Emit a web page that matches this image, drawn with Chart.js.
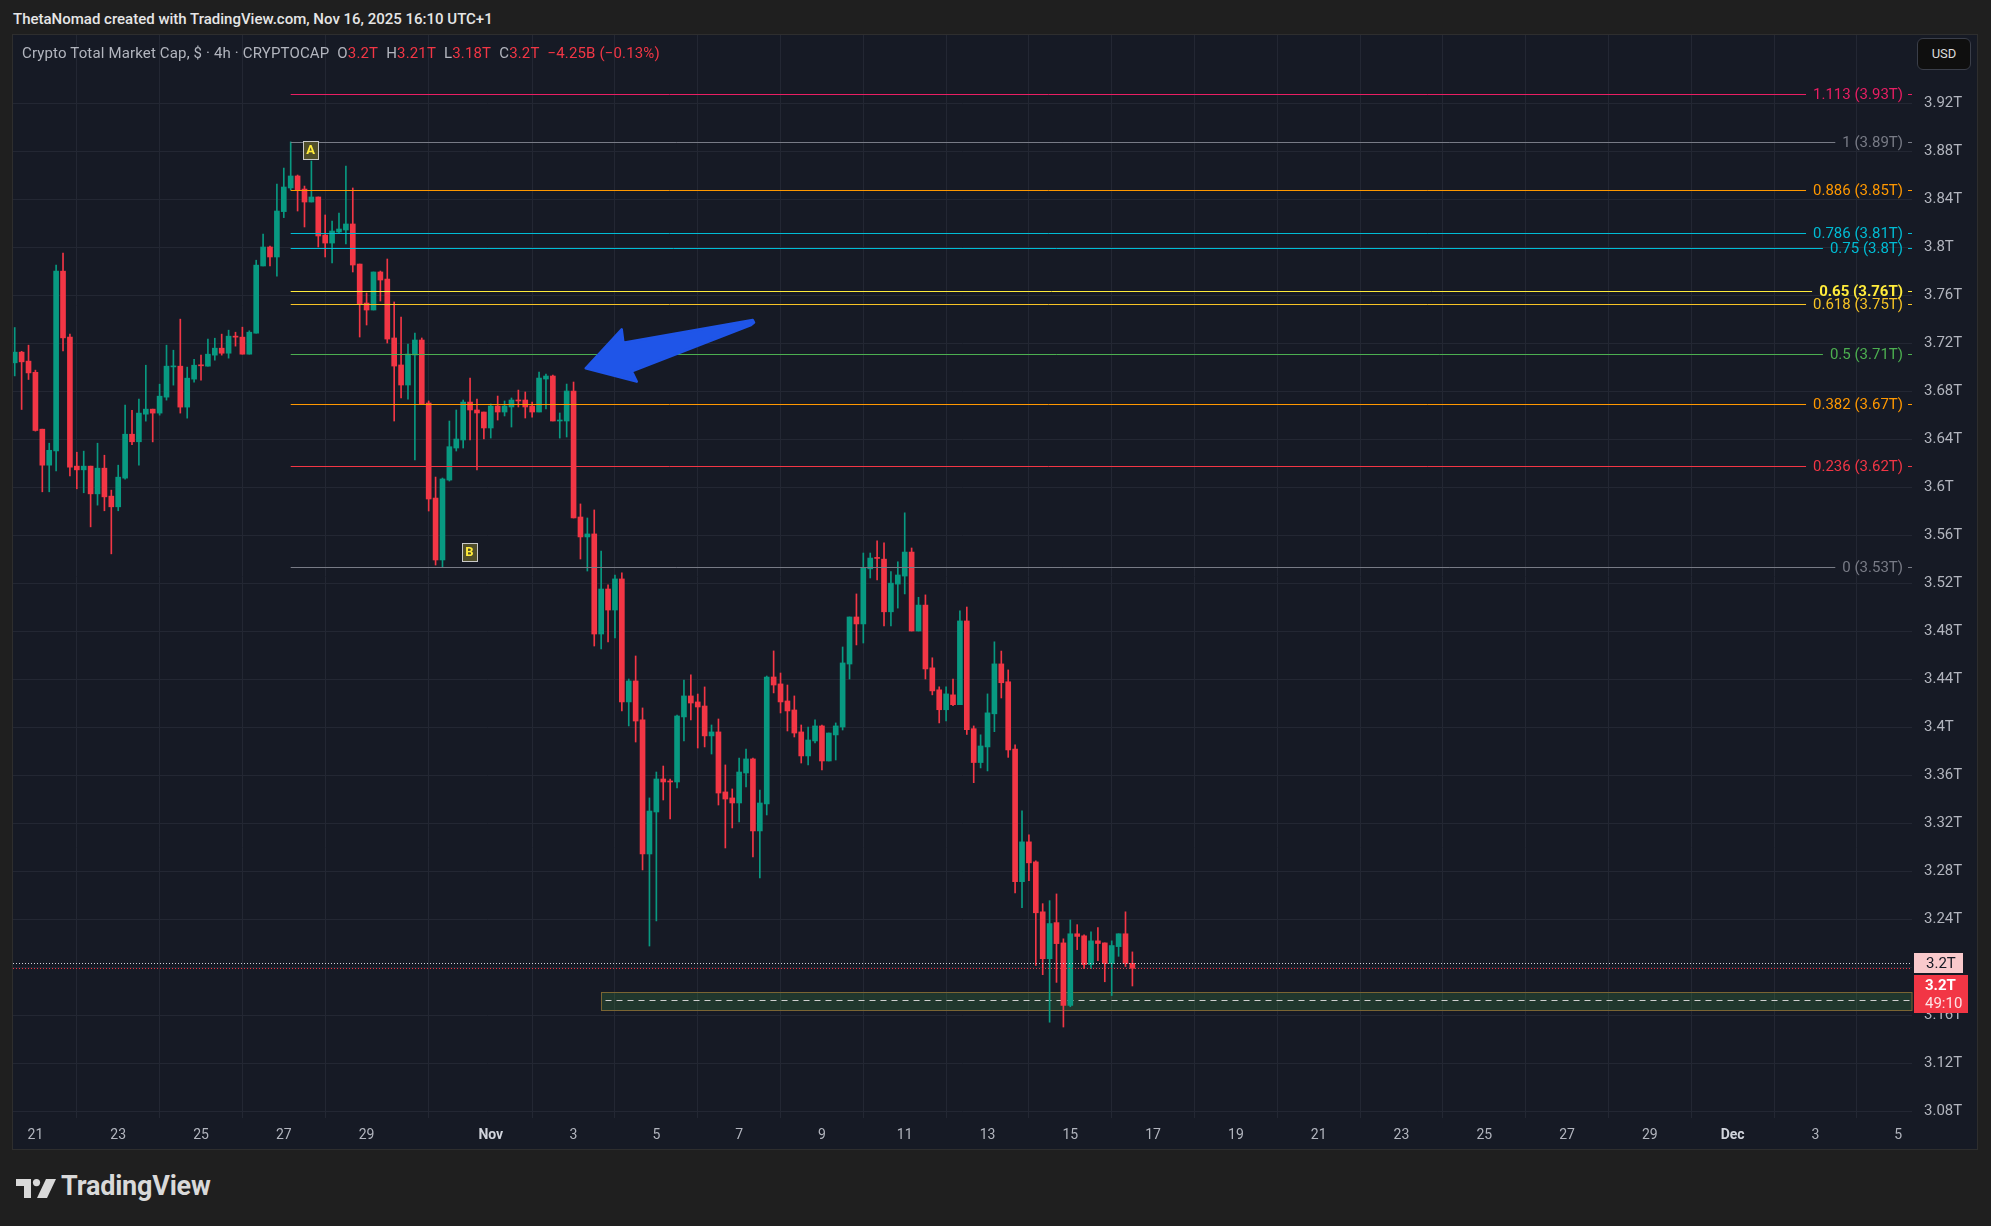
<!DOCTYPE html>
<html>
<head>
<meta charset="utf-8">
<title>Crypto Total Market Cap</title>
<script src="https://cdn.jsdelivr.net/npm/chart.js@4.4.1/dist/chart.umd.min.js"></script>
<style>
  html, body { margin:0; padding:0; }
  body { width:1991px; height:1226px; background:#1f1f1f; position:relative; overflow:hidden; font-family: Roboto, 'Noto Sans', sans-serif; }
  #title { position:absolute; left:13px; top:12px; font-size:15px; line-height:15px; font-weight:500; color:#e6e6e6; white-space:nowrap; }
  #panel { position:absolute; left:12px; top:34px; width:1964px; height:1114px; border:1px solid #2e2e2e; background:#161a25; }
  #chart { position:absolute; left:13px; top:35px; }
  #legend { position:absolute; left:22px; top:46px; font-size:15px; line-height:15px; color:#b2b5be; white-space:nowrap; letter-spacing:0.15px; }
  #legend .r { color:#f23645; }
  #legend .gap { margin-left:8px; }
  #usd { position:absolute; left:1917px; top:38px; width:52px; height:30px; border:1px solid #3a3e49; border-radius:6px; background:#0f0f0f; color:#dcdcdc; font-size:13px; line-height:30px; text-align:center; }
  #logoIcon { position:absolute; left:16px; top:1179px; }
  #logoText { position:absolute; left:61px; top:1173px; font-size:27px; line-height:27px; font-weight:700; color:#d9d9d9; letter-spacing:-0.2px; }
</style>
</head>
<body>
<div id="title">ThetaNomad created with TradingView.com, Nov 16, 2025 16:10 UTC+1</div>
<div id="panel"></div>
<canvas id="chart" width="1964" height="1114"></canvas>
<div id="legend"><span>Crypto Total Market Cap, $ · 4h · CRYPTOCAP</span><span class="gap">O</span><span class="r">3.2T</span><span class="gap">H</span><span class="r">3.21T</span><span class="gap">L</span><span class="r">3.18T</span><span class="gap">C</span><span class="r">3.2T</span><span class="gap r">−4.25B (−0.13%)</span></div>
<div id="usd">USD</div>
<svg id="logoIcon" width="42" height="19" viewBox="0 0 42 19"><path d="M0 0H15V19H8V7H0Z" fill="#d9d9d9"/><circle cx="20.5" cy="3.6" r="3.6" fill="#d9d9d9"/><path d="M30 0H40L31 19H21Z" fill="#d9d9d9"/></svg>
<div id="logoText">TradingView</div>
<script>
// ---------- DATA ----------
const firstCandleUTC = Date.UTC(2025, 9, 20, 12); // Oct 20 13:00 UTC+1
const candleHours = 4;

const open = [
3.7039,3.7128,3.7053,3.6960,3.6486,3.6186,3.6305,3.7803,3.7253,3.6178,
3.6147,3.6178,3.5947,3.6161,3.5928,3.5839,3.6078,3.6444,3.6381,3.6611,
3.6653,3.6620,3.6753,3.7005,3.7011,3.6670,3.6903,3.7019,3.7011,3.7103,
3.7161,3.7119,3.7261,3.7253,3.7111,3.7286,3.7846,3.8004,3.7921,3.8299,
3.8496,3.8596,3.8487,3.8379,3.8421,3.8104,3.8037,3.8129,3.8146,3.8196,
3.7862,3.7537,3.7479,3.7796,3.7737,3.7246,3.7021,3.6854,3.7104,3.7229,
3.6704,3.5912,3.5396,3.6062,3.6329,3.6396,3.6712,3.6646,3.6629,3.6496,
3.6679,3.6629,3.6671,3.6729,3.6729,3.6679,3.6629,3.6904,3.6929,3.6554,
3.6554,3.6804,3.5754,3.5588,3.5613,3.4779,3.5154,3.4979,3.5238,3.4213,
3.4388,3.4063,3.2946,3.3296,3.3571,3.3554,3.3546,3.4088,3.4263,3.4213,
3.4179,3.3930,3.3963,3.3463,3.3413,3.3371,3.3621,3.3738,3.3138,3.3363,
3.4421,3.4363,3.4221,3.4146,3.3963,3.3763,3.3888,3.4013,3.3721,3.3938,
3.4004,3.4529,3.4921,3.4863,3.5322,3.5412,3.5403,3.4964,3.5195,3.5262,
3.5462,3.4804,3.5020,3.4497,3.4314,3.4148,3.4272,3.4190,3.4888,3.3990,
3.3708,3.3838,3.4114,3.4530,3.4381,3.3821,3.2715,3.3047,3.2880,3.2464,
3.2073,3.2374,3.2205,3.1684,3.2281,3.2264,3.2025,3.2222,3.2205,3.2033,
3.2174,3.2281,3.2035];

const high = [
3.7333,3.7135,3.7186,3.6978,3.6486,3.6369,3.7853,3.7953,3.7278,3.6294,
3.6303,3.6178,3.6369,3.6269,3.5978,3.6186,3.6686,3.6644,3.6736,3.7019,
3.6653,3.6861,3.7186,3.7144,3.7403,3.7003,3.7069,3.7103,3.7236,3.7244,
3.7278,3.7311,3.7294,3.7336,3.7306,3.7894,3.8112,3.8012,3.8529,3.8662,
3.8880,3.8604,3.8512,3.8721,3.8421,3.8271,3.8221,3.8287,3.8679,3.8496,
3.7862,3.7621,3.7796,3.7804,3.7904,3.7546,3.7421,3.7196,3.7287,3.7246,
3.6721,3.6087,3.6079,3.6554,3.6646,3.6729,3.6912,3.6737,3.6629,3.6696,
3.6762,3.6721,3.6746,3.6812,3.6796,3.6712,3.6962,3.6946,3.6937,3.6621,
3.6862,3.6879,3.5863,3.5746,3.5813,3.5471,3.5188,3.5271,3.5288,3.4404,
3.4596,3.4163,3.3413,3.3629,3.3679,3.3571,3.4104,3.4396,3.4438,3.4279,
3.4338,3.4021,3.4071,3.3688,3.3488,3.3746,3.3821,3.3746,3.3479,3.4429,
3.4638,3.4454,3.4354,3.4263,3.4021,3.4004,3.4063,3.4021,3.3954,3.4038,
3.4671,3.4921,3.5113,3.5454,3.5454,3.5555,3.5538,3.5299,3.5381,3.5789,
3.5496,3.5085,3.5105,3.4581,3.4339,3.4339,3.4404,3.4973,3.5004,3.4013,
3.3939,3.4280,3.4714,3.4637,3.4480,3.3855,3.3306,3.3106,3.2889,3.2532,
3.2557,3.2613,3.2239,3.2396,3.2357,3.2273,3.2298,3.2332,3.2205,3.2222,
3.2281,3.2464,3.2130];

const low = [
3.6930,3.6650,3.6900,3.6470,3.5964,3.5964,3.6139,3.7139,3.6097,3.5989,
3.5956,3.5672,3.5853,3.5806,3.5447,3.5806,3.6069,3.6356,3.6186,3.6553,
3.6380,3.6603,3.6728,3.6853,3.6620,3.6578,3.6878,3.6894,3.7011,3.7061,
3.7103,3.7078,3.7178,3.7111,3.7111,3.7286,3.7846,3.7846,3.7762,3.8249,
3.8479,3.8304,3.8171,3.8379,3.8004,3.7921,3.7871,3.8121,3.8029,3.7796,
3.7254,3.7354,3.7479,3.7554,3.7204,3.6554,3.6746,3.6737,3.6229,3.6696,
3.5804,3.5354,3.5340,3.6054,3.6304,3.6329,3.6396,3.6146,3.6404,3.6412,
3.6562,3.6596,3.6504,3.6671,3.6579,3.6587,3.6629,3.6654,3.6554,3.6412,
3.6421,3.5746,3.5404,3.5304,3.4679,3.4654,3.4713,3.4746,3.4138,3.4013,
3.3879,3.2813,3.2179,3.2388,3.3396,3.3238,3.3496,3.3888,3.4063,3.3829,
3.3838,3.3779,3.3354,3.2996,3.3163,3.3213,3.3504,3.2921,3.2746,3.3271,
3.4288,3.4121,3.3971,3.3921,3.3704,3.3688,3.3871,3.3646,3.3721,3.3729,
3.3979,3.4404,3.4688,3.4704,3.5246,3.5229,3.4846,3.4846,3.4995,3.5113,
3.4804,3.4804,3.4404,3.4272,3.4038,3.4055,3.4182,3.4190,3.3942,3.3540,
3.3663,3.3638,3.3965,3.4246,3.3751,3.2622,3.2498,3.2723,3.2017,3.1940,
3.1544,3.1876,3.1504,3.1673,3.2149,3.1991,3.1991,3.2056,3.1881,3.1766,
3.2093,3.2008,3.1846];

const close = [
3.7128,3.7047,3.6955,3.6475,3.6186,3.6310,3.7803,3.7247,3.6169,3.6147,
3.6178,3.5947,3.6161,3.5922,3.5839,3.6086,3.6444,3.6381,3.6620,3.6653,
3.6620,3.6761,3.7011,3.7011,3.6670,3.6911,3.7019,3.7014,3.7111,3.7161,
3.7119,3.7261,3.7253,3.7111,3.7294,3.7853,3.8004,3.7921,3.8304,3.8504,
3.8596,3.8479,3.8379,3.8421,3.8096,3.8037,3.8137,3.8154,3.8196,3.7854,
3.7529,3.7479,3.7796,3.7729,3.7237,3.7012,3.6854,3.7112,3.7229,3.6696,
3.5904,3.5396,3.6071,3.6340,3.6404,3.6712,3.6646,3.6621,3.6496,3.6679,
3.6629,3.6679,3.6729,3.6721,3.6671,3.6629,3.6912,3.6929,3.6554,3.6558,
3.6804,3.5746,3.5588,3.5613,3.4779,3.5154,3.4979,3.5238,3.4213,3.4388,
3.4054,3.2946,3.3304,3.3571,3.3546,3.3546,3.4096,3.4263,3.4204,3.4171,
3.3930,3.3963,3.3454,3.3404,3.3371,3.3629,3.3738,3.3138,3.3371,3.4421,
3.4354,3.4213,3.4138,3.3954,3.3763,3.3896,3.4013,3.3721,3.3954,3.4013,
3.4538,3.4921,3.4863,3.5329,3.5412,3.5409,3.4964,3.5203,3.5271,3.5462,
3.4804,3.5020,3.4488,3.4305,3.4148,3.4280,3.4190,3.4888,3.3982,3.3708,
3.3846,3.4122,3.4530,3.4373,3.3813,3.2715,3.3047,3.2872,3.2456,3.2073,
3.2366,3.2199,3.1684,3.2281,3.2259,3.2025,3.2222,3.2200,3.2033,3.2183,
3.2281,3.2033,3.1993];

const xTickDates = ['2025-10-21','2025-10-23','2025-10-25','2025-10-27','2025-10-29','2025-11-01','2025-11-03','2025-11-05','2025-11-07','2025-11-09','2025-11-11','2025-11-13','2025-11-15','2025-11-17','2025-11-19','2025-11-21','2025-11-23','2025-11-25','2025-11-27','2025-11-29','2025-12-01','2025-12-03','2025-12-05'];
const xTickLabels = ['21','23','25','27','29','Nov','3','5','7','9','11','13','15','17','19','21','23','25','27','29','Dec','3','5'];
const yTickValues = [3.08,3.12,3.16,3.2,3.24,3.28,3.32,3.36,3.4,3.44,3.48,3.52,3.56,3.6,3.64,3.68,3.72,3.76,3.8,3.84,3.88,3.92];

const fibLevels = [1.113, 1, 0.886, 0.786, 0.75, 0.65, 0.618, 0.5, 0.382, 0.236, 0];
const fibColors = ['#e91e63','#787b86','#ff9800','#00bcd4','#00bcd4','#ffeb3b','#f7c325','#4caf50','#ff9800','#f23645','#787b86'];
const fibHighPrice = 3.888, fibLowPrice = 3.534, fibStartIdx = 40;
const labelA = {idx: 42.9, price: 3.8813, text: 'A'};
const labelB = {idx: 65.9, price: 3.5463, text: 'B'};
const zone = {startIdx: 85, top: 3.1795, bottom: 3.1645, mid: 3.1730};
const arrowPts = [[82.76,3.6993],[87.98,3.7318],[88.22,3.7207],[106.97,3.7396],[107.16,3.7374],[106.72,3.7354],[89.44,3.6968],[90.16,3.6882]];
const refLinePrice = 3.2037;
const countdown = '49:10';

// ---------- DERIVED ----------
const STEP = candleHours * 3600e3;
const candleTimes = open.map((_, i) => new Date(firstCandleUTC + i * STEP));
const xTickIdx = xTickDates.map(d => (Date.parse(d + 'T00:00:00Z') - firstCandleUTC) / STEP);
const xTickMap = {};
xTickIdx.forEach((v, k) => { xTickMap[v] = xTickLabels[k]; });
const lastClose = close[close.length - 1];

const GREEN = '#089981', RED = '#f23645', BG = '#161a25', GRID = '#232733';
const FONT = 'Roboto, "Noto Sans", sans-serif';
const colorOf = i => (close[i] >= open[i] ? GREEN : RED);
const fmtT = v => parseFloat(v.toFixed(2)) + 'T';

const overlay = {
  id: 'overlay',
  beforeDatasetsDraw(chart) {
    const {ctx, chartArea: a, scales: {x, y}} = chart;
    ctx.save();
    const zl = Math.round(x.getPixelForValue(zone.startIdx)) + 0.5;
    const zt = Math.round(y.getPixelForValue(zone.top)) + 0.5;
    const zb = Math.round(y.getPixelForValue(zone.bottom)) + 0.5;
    ctx.fillStyle = 'rgba(76,175,80,0.2)';
    ctx.fillRect(zl, zt, a.right - zl, zb - zt);
    ctx.strokeStyle = '#7a6533'; ctx.lineWidth = 1;
    ctx.strokeRect(zl, zt, a.right - zl, zb - zt);
    const zm = Math.round(y.getPixelForValue(zone.mid)) + 0.5;
    ctx.setLineDash([6, 5]); ctx.strokeStyle = '#d0d0d0';
    ctx.beginPath(); ctx.moveTo(zl + 4, zm); ctx.lineTo(a.right, zm); ctx.stroke();
    ctx.restore();
  },
  afterDatasetsDraw(chart) {
    const {ctx, chartArea: a, scales: {x, y}} = chart;
    ctx.save();
    ctx.beginPath(); ctx.rect(a.left, a.top, a.right - a.left, a.bottom - a.top); ctx.clip();
    ctx.lineWidth = 1; ctx.setLineDash([1, 2]);
    [[refLinePrice, '#d1d4dc'], [lastClose, RED]].forEach(([p, c]) => {
      const yy = Math.round(y.getPixelForValue(p)) + 0.5;
      ctx.strokeStyle = c; ctx.beginPath(); ctx.moveTo(a.left, yy); ctx.lineTo(a.right, yy); ctx.stroke();
    });
    ctx.setLineDash([]);
    const x0 = x.getPixelForValue(fibStartIdx);
    fibLevels.forEach((lvl, k) => {
      const price = fibLowPrice + lvl * (fibHighPrice - fibLowPrice);
      const yy = Math.round(y.getPixelForValue(price)) + 0.5;
      const label = String(lvl) + ' (' + fmtT(price) + ')';
      ctx.font = (lvl === 0.65 ? 'bold ' : '') + '15px ' + FONT;
      const w = ctx.measureText(label).width;
      const tr = a.right - 9, tl = tr - w;
      ctx.strokeStyle = fibColors[k]; ctx.lineWidth = 1;
      ctx.beginPath(); ctx.moveTo(x0, yy); ctx.lineTo(tl - 7, yy);
      ctx.moveTo(tr + 5, yy); ctx.lineTo(a.right, yy); ctx.stroke();
      ctx.fillStyle = fibColors[k]; ctx.textAlign = 'right'; ctx.textBaseline = 'middle';
      ctx.fillText(label, tr, yy + 1);
    });
    [labelA, labelB].forEach(L => {
      const cx = x.getPixelForValue(L.idx), cy = y.getPixelForValue(L.price);
      const bx = Math.round(cx - 7.5) + 0.5, by = Math.round(cy - 9) + 0.5;
      ctx.fillStyle = '#504e2a'; ctx.fillRect(bx, by, 15, 18);
      ctx.strokeStyle = '#c9c9c9'; ctx.lineWidth = 1; ctx.strokeRect(bx, by, 15, 18);
      ctx.fillStyle = '#ffeb3b'; ctx.font = 'bold 13px ' + FONT;
      ctx.textAlign = 'center'; ctx.textBaseline = 'middle';
      ctx.fillText(L.text, cx, cy + 1);
    });
    ctx.fillStyle = '#1f55e8'; ctx.strokeStyle = '#1f55e8'; ctx.lineWidth = 2.5; ctx.lineJoin = 'round';
    ctx.beginPath();
    arrowPts.forEach(([i, p], k) => {
      const px = x.getPixelForValue(i), py = y.getPixelForValue(p);
      if (k === 0) ctx.moveTo(px, py); else ctx.lineTo(px, py);
    });
    ctx.closePath(); ctx.fill(); ctx.stroke();
    ctx.restore();
  },
  afterDraw(chart) {
    const {ctx, chartArea: a, scales: {y}} = chart;
    ctx.save();
    ctx.fillStyle = BG;
    ctx.fillRect(a.right + 1, a.bottom, chart.width - a.right - 1, chart.height - a.bottom);
    const py = Math.round(y.getPixelForValue(refLinePrice));
    const pTop = py - 10;
    ctx.fillStyle = '#f9c9cc';
    ctx.fillRect(a.right + 2, pTop, 49, 20);
    ctx.fillStyle = '#131722'; ctx.font = '15px ' + FONT; ctx.textAlign = 'left'; ctx.textBaseline = 'middle';
    ctx.fillText(fmtT(refLinePrice), a.right + 14, pTop + 11);
    const rTop = pTop + 22;
    ctx.fillStyle = RED;
    ctx.fillRect(a.right + 2, rTop, 54, 38);
    ctx.fillStyle = '#ffffff'; ctx.font = 'bold 15px ' + FONT;
    ctx.fillText(fmtT(lastClose), a.right + 13, rTop + 11);
    ctx.font = '15px ' + FONT; ctx.fillStyle = '#fde3e5';
    ctx.fillText(countdown, a.right + 13, rTop + 29);
    ctx.restore();
  }
};

new Chart(document.getElementById('chart'), {
  type: 'bar',
  data: {
    datasets: [
      {
        label: 'wick',
        data: open.map((_, i) => ({x: i, y: [low[i], high[i]]})),
        backgroundColor: c => colorOf(c.dataIndex),
        barThickness: 1, grouped: false, order: 2
      },
      {
        label: 'body',
        data: open.map((_, i) => ({x: i, y: [open[i], close[i]]})),
        backgroundColor: c => colorOf(c.dataIndex),
        barThickness: 5, minBarLength: 1, grouped: false, order: 1
      }
    ]
  },
  options: {
    responsive: false, maintainAspectRatio: false, animation: false,
    layout: {padding: 0},
    plugins: {legend: {display: false}, tooltip: {enabled: false}},
    scales: {
      x: {
        type: 'linear', min: -0.25, max: 275.0, offset: false,
        grid: {color: GRID, drawTicks: false, lineWidth: 1},
        border: {display: false},
        afterBuildTicks: s => { s.ticks = xTickIdx.map(v => ({value: v})); },
        afterFit: s => { s.height = 31; s.paddingLeft = 0; s.paddingRight = 0; },
        ticks: {
          autoSkip: false, maxRotation: 0, padding: 9,
          callback: v => xTickMap[v] ?? '',
          color: c => (/^[A-Z]/.test(c.tick && c.tick.label || '') ? '#d1d4dc' : '#b2b5be'),
          font: c => ({family: FONT, size: 14, weight: /^[A-Z]/.test(c.tick && c.tick.label || '') ? 'bold' : 'normal'})
        }
      },
      y: {
        type: 'linear', position: 'right', min: 3.07458, max: 3.97708,
        grid: {color: GRID, drawTicks: false, lineWidth: 1},
        border: {display: false},
        afterBuildTicks: s => { s.ticks = yTickValues.map(v => ({value: v})); },
        afterFit: s => { s.width = 65; s.paddingTop = 0; s.paddingBottom = 0; },
        ticks: {
          padding: 12, color: '#b2b5be', font: {family: FONT, size: 15},
          callback: v => fmtT(v)
        }
      }
    }
  },
  plugins: [overlay]
});
</script>
</body>
</html>
